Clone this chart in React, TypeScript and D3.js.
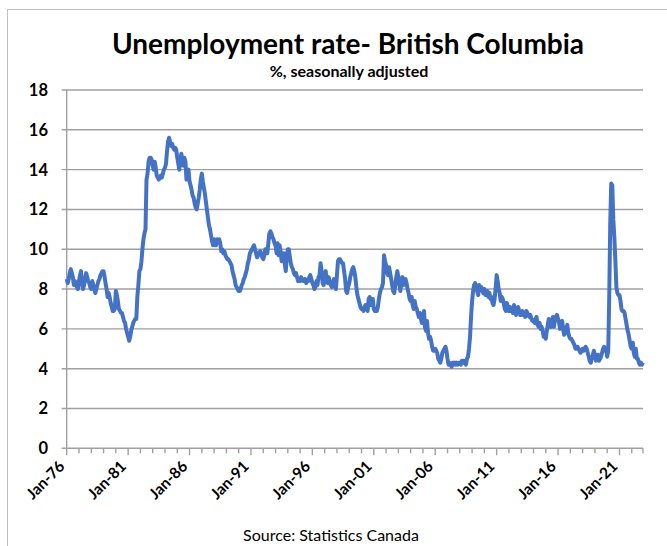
import * as d3 from "d3";

// BC unemployment rate, % seasonally adjusted, monthly from Jan 1976
const rates1976to1985 = [
  8.5, 8.3, 8.5, 8.8, 9.0, 8.8, 8.6, 8.2, 8.4, 8.3, 8.1, 8.0,
  8.4, 8.7, 8.9, 8.3, 8.0, 8.2, 8.5, 8.8, 8.6, 8.4, 8.3, 8.1,
  8.0, 8.4, 8.2, 8.0, 7.8, 8.0, 8.2, 8.4, 8.5, 8.7, 8.8, 8.9,
  8.9, 8.6, 8.3, 8.0, 7.6, 7.8, 7.6, 7.3, 7.1, 6.9, 6.9, 7.0,
  7.9, 7.7, 7.4, 7.0, 6.9, 6.8, 6.8, 6.6, 6.4, 6.3, 6.0, 5.8,
  5.6, 5.4, 5.6, 5.9, 6.1, 6.3, 6.4, 6.5, 6.5, 7.6, 8.2, 8.9,
  9.0, 9.4, 10.0, 10.5, 10.8, 11.0, 13.5, 13.8, 14.4, 14.6, 14.6, 14.5,
  14.2, 14.0, 14.4, 14.1, 13.7, 13.6, 13.5, 13.6, 13.7, 13.6, 13.8, 14.0,
  14.1, 14.3, 14.9, 15.4, 15.6, 15.4, 15.2, 15.3, 15.1, 15.0, 15.1, 15.0,
  14.6, 14.3, 14.0, 14.4, 14.8, 14.5, 14.2, 14.6, 14.4, 13.5, 13.8, 14.0,
];

const rates1986to1995 = [
  13.4, 13.2, 13.0, 12.7, 12.6, 12.3, 12.1, 12.0, 12.3, 12.6, 13.0, 13.5,
  13.8, 13.4, 13.1, 12.8, 12.4, 12.0, 11.6, 11.2, 11.0, 10.7, 10.4, 10.2,
  10.5, 10.3, 10.2, 10.5, 10.4, 10.5, 10.3, 9.9, 10.0, 9.8, 9.9, 9.7,
  9.6, 9.5, 9.5, 9.4, 9.3, 9.2, 8.9, 8.7, 8.5, 8.2, 8.1, 8.0,
  7.9, 7.9, 8.0, 8.2, 8.3, 8.5, 8.6, 8.8, 9.0, 9.3, 9.5, 9.8,
  9.9, 10.0, 10.1, 10.2, 10.0, 9.8, 9.6, 9.7, 9.8, 9.9, 9.8, 9.6,
  9.5, 9.7, 10.0, 9.9, 9.8, 10.3, 10.8, 10.9, 10.8, 10.6, 10.5, 10.3,
  10.2, 9.8, 10.3, 9.7, 10.2, 9.9, 9.4, 9.6, 9.8, 9.3, 8.9, 9.6,
  10.0, 10.0, 9.6, 9.3, 9.1, 9.0, 8.8, 8.7, 8.8, 8.6, 8.4, 8.5,
  8.4, 8.6, 8.5, 8.4, 8.4, 8.5, 8.3, 8.4, 8.4, 8.6, 8.7, 8.5,
];

const rates1996to2005 = [
  8.3, 8.2, 8.0, 8.1, 8.4, 8.2, 8.6, 8.7, 9.3, 8.9, 8.3, 8.2,
  8.6, 8.9, 8.4, 8.3, 8.6, 8.3, 8.2, 8.1, 8.3, 8.5, 8.2, 8.0,
  8.7, 9.4, 9.5, 9.5, 9.4, 9.3, 9.3, 8.9, 8.5, 7.9, 7.8, 8.1,
  8.3, 8.6, 8.8, 9.0, 9.1, 8.9, 8.6, 8.1, 7.7, 7.5, 7.3, 7.1,
  7.0, 7.0, 6.9, 7.1, 7.2, 7.0, 6.9, 7.5, 7.6, 7.2, 7.3, 7.5,
  7.0, 6.9, 7.0, 6.9, 7.1, 7.5, 7.8, 8.0, 8.1, 8.3, 9.7, 9.4,
  9.2, 8.8, 8.7, 9.1, 8.8, 8.5, 8.2, 7.9, 7.8, 8.2, 8.6, 8.9,
  8.6, 8.2, 7.9, 8.3, 8.6, 8.2, 8.4, 8.5, 8.3, 8.0, 7.8, 7.5,
  7.4, 7.6, 7.2, 7.0, 7.4, 7.1, 7.0, 6.8, 6.6, 6.8, 6.5, 6.3,
  6.3, 6.9, 6.1, 5.9, 6.4, 5.8, 5.5, 5.6, 5.4, 5.1, 4.9, 4.9,
];

const rates2006to2015 = [
  5.0, 4.9, 4.8, 4.5, 4.4, 4.3, 4.5, 4.8, 4.9, 5.0, 5.1, 4.9,
  4.5, 4.2, 4.3, 4.2, 4.1, 4.3, 4.2, 4.3, 4.2, 4.3, 4.2, 4.3,
  4.3, 4.2, 4.4, 4.3, 4.4, 4.3, 4.2, 4.5, 4.6, 5.0, 5.6, 6.6,
  7.4, 7.9, 8.2, 8.3, 8.1, 7.9, 7.7, 8.2, 8.0, 8.1, 7.9, 7.8,
  8.0, 7.7, 7.8, 7.9, 7.6, 7.8, 7.5, 7.6, 7.3, 7.2, 7.5, 8.0,
  8.7, 8.4, 8.0, 7.8, 7.4, 7.6, 7.5, 7.3, 7.0, 6.9, 7.3, 7.1,
  6.9, 7.1, 6.9, 7.0, 6.8, 7.2, 7.0, 6.7, 6.8, 7.1, 6.9, 6.7,
  6.7, 6.9, 6.7, 6.8, 6.6, 6.9, 6.8, 6.7, 6.6, 6.7, 6.5, 6.4,
  6.4, 6.3, 6.5, 6.6, 6.2, 6.1, 6.3, 6.0, 6.1, 5.9, 5.6, 5.7,
  5.5, 5.9, 6.2, 6.5, 6.3, 6.1, 6.4, 6.6, 6.1, 6.5, 6.6, 6.7,
];

const rates2016to2022 = [
  6.5, 6.3, 6.0, 6.2, 6.4, 6.0, 5.7, 5.8, 6.0, 6.2, 5.8, 5.6,
  5.5, 5.5, 5.4, 5.3, 5.2, 5.0, 5.0, 5.1, 5.0, 4.9, 4.8, 4.9,
  5.0, 4.9, 5.0, 5.1, 5.0, 4.8, 4.6, 4.4, 4.3, 4.5, 4.7, 4.9,
  4.7, 4.4, 4.5, 4.7, 4.4, 4.5, 4.6, 4.8, 5.0, 5.1, 5.0, 4.9,
  4.6, 4.9, 7.5, 11.3, 13.3, 13.2, 11.5, 10.6, 9.4, 8.1, 7.8, 7.7,
  7.7, 7.4, 7.0, 6.9, 6.9, 6.8, 6.5, 6.2, 5.9, 5.7, 5.4, 5.1,
  5.0, 5.3, 4.8, 4.6, 5.0, 4.5, 4.5, 4.3, 4.2, 4.3, 4.2, 4.3,
];

const startYear = 1976;
const yTicks = [0, 2, 4, 6, 8, 10, 12, 14, 16, 18];
const labelYears = [1976, 1981, 1986, 1991, 1996, 2001, 2006, 2011, 2016, 2021];

const allRates = [
  ...rates1976to1985,
  ...rates1986to1995,
  ...rates1996to2005,
  ...rates2006to2015,
  ...rates2016to2022,
];

const data = allRates.map((v, i) => ({
  date: new Date(startYear + Math.floor(i / 12), i % 12, 1),
  value: v,
}));

const width = 667;
const height = 546;
const plot = { left: 66.7, right: 643, top: 90, bottom: 448.3 };
const font = "Lato, 'Open Sans', sans-serif";
const gridColor = "#a0a0a0";

export default function App() {
  const x = d3
    .scaleTime()
    .domain([data[0].date, data[data.length - 1].date])
    .range([plot.left, plot.right]);
  const y = d3.scaleLinear().domain([0, 18]).range([plot.bottom, plot.top]);

  const line = d3
    .line<{ date: Date; value: number }>()
    .x((d) => x(d.date))
    .y((d) => y(d.value));

  const yearTicks = d3.timeYear.range(
    new Date(startYear, 0, 1),
    new Date(2023, 0, 1)
  );
  const fmt = d3.timeFormat("%b-%y");

  return (
    <svg
      width={width}
      height={height}
      style={{ position: "absolute", left: 0, top: 0, background: "#fff" }}
    >
      <rect x={7.5} y={9.5} width={720} height={600} fill="#fff" stroke="#bfbfbf" />

      <text x={348} y={54} textAnchor="middle" fontFamily={font} fontWeight="bold" fontSize={28}>
        Unemployment rate- British Columbia
      </text>
      <text x={349} y={77} textAnchor="middle" fontFamily={font} fontWeight="bold" fontSize={16}>
        %, seasonally adjusted
      </text>

      {/* horizontal gridlines + little ticks left of the axis */}
      {yTicks.map((t) => (
        <g key={t}>
          <line x1={plot.left - 5} x2={plot.right} y1={y(t)} y2={y(t)} stroke={gridColor} strokeWidth={1.4} />
          <text
            x={48}
            y={y(t)}
            dy="0.36em"
            textAnchor="end"
            fontFamily={font}
            fontWeight="bold"
            fontSize={16.5}
          >
            {t}
          </text>
        </g>
      ))}
      <line x1={plot.left} x2={plot.left} y1={plot.top} y2={plot.bottom} stroke={gridColor} strokeWidth={1.4} />

      {/* yearly ticks on the date axis */}
      {yearTicks.map((d) => {
        const major = labelYears.includes(d.getFullYear());
        return (
          <line
            key={d.getFullYear()}
            x1={x(d)}
            x2={x(d)}
            y1={plot.bottom}
            y2={plot.bottom + (major ? 7 : 5)}
            stroke={gridColor}
            strokeWidth={1.4}
          />
        );
      })}
      <line x1={plot.right} x2={plot.right} y1={plot.bottom} y2={plot.bottom + 5} stroke={gridColor} strokeWidth={1.4} />

      {labelYears.map((yr) => {
        const d = new Date(yr, 0, 1);
        const px = x(d) - 1;
        const py = plot.bottom + 19;
        return (
          <text
            key={yr}
            transform={`translate(${px},${py}) rotate(-45)`}
            textAnchor="end"
            fontFamily={font}
            fontWeight="bold"
            fontSize={15.5}
          >
            {fmt(d)}
          </text>
        );
      })}

      <path d={line(data) ?? ""} fill="none" stroke="#4472C4" strokeWidth={4} strokeLinejoin="round" />

      <text x={331} y={541} textAnchor="middle" fontFamily={font} fontSize={16}>
        Source: Statistics Canada
      </text>
    </svg>
  );
}
